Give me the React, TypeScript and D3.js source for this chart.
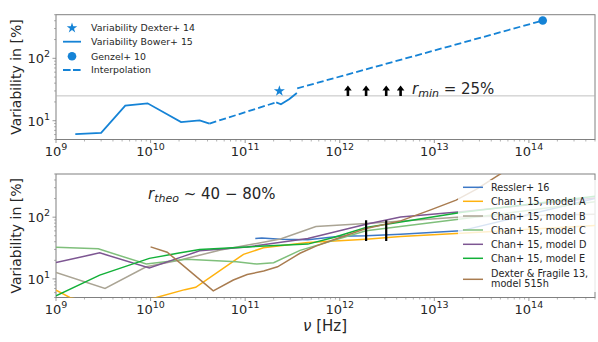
import React, { useEffect, useRef } from 'react';
import * as d3 from 'd3';

// ---- top panel data ----
const bowerFreq = [1.6e9, 3.0e9, 5.4e9, 9.3e9, 2.1e10, 3.3e10, 4.2e10];
const bowerVar = [6.1, 6.4, 17.4, 19.0, 9.5, 10.1, 9.0];
const bower2Freq = [2.13e11, 2.39e11, 2.94e11, 3.52e11];
const bower2Var = [19.7, 18.3, 22.3, 27.8];
const interp1Freq = [4.2e10, 2.13e11];
const interp1Var = [9.0, 19.7];
const interp2Freq = [3.55e11, 1.4e14];
const interp2Var = [33, 403];
const dexterStar = { freq: 2.3e11, v: 30 };
const genzelDot = { freq: 1.4e14, v: 403 };
const rMin = 25;
const arrowFreq = [1.22e12, 1.9e12, 3.1e12, 4.4e12];

// ---- bottom panel data ----
const resslerFreq = [1.28e11, 1.5e11, 2.36e11, 4.6e11, 1e12, 1.9e12, 4.4e12, 1.9e13, 5e14];
const resslerVar = [45, 46, 44, 43, 49, 50, 53, 60, 200];
const chanAFreq = [1e9, 1.4e9, 4e9, 1.15e10, 2.3e10, 3e10, 9.6e10, 1.56e11, 4.6e11, 1.9e12, 4.4e12, 1.9e13, 5e14];
const chanAVar = [6.6, 5, 3.5, 5, 6.7, 7.3, 25, 32, 39, 44, 48.6, 55, 73];
const chanBFreq = [1e9, 3.3e9, 9e9, 2e10, 5.5e10, 2.36e11, 5.6e11, 1.9e12, 1.9e13, 5e14];
const chanBVar = [12.7, 7.0, 15.7, 20.1, 29.3, 44.2, 70.5, 79, 101, 111];
const chanCFreq = [1e9, 2.8e9, 9e9, 2.4e10, 8.1e10, 1.33e11, 2e11, 3.8e11, 1.9e12, 1.9e13, 5e14];
const chanCVar = [32.7, 30.7, 17.4, 20.9, 18.9, 17.4, 18.3, 29, 60, 93, 178];
const chanDFreq = [1e9, 2.9e9, 9.7e9, 2.3e10, 3.3e10, 1.05e11, 4.6e11, 1.9e12, 4.4e12, 1.9e13, 5e14];
const chanDVar = [18.5, 26.4, 15.1, 23.6, 28.5, 33, 45, 77, 101, 122, 205];
const chanEFreq = [1e9, 2.9e9, 9.7e9, 2e10, 3.3e10, 1.05e11, 4.6e11, 8.6e11, 1.9e12, 1.9e13, 5e14];
const chanEVar = [5.3, 11.5, 21.5, 26.2, 30, 33, 36.6, 47, 68, 119, 219];
const dfFreq = [1e10, 1.5e10, 2.2e10, 4.6e10, 7.5e10, 1.05e11, 1.57e11, 2.2e11, 3.8e11, 5.6e11, 8.6e11, 1.9e12, 4.4e12, 9e12, 1.7e13, 2.8e13, 6e13];
const dfVar = [33, 27, 16.6, 6.4, 9.6, 11.8, 13.4, 15.7, 26, 34, 43, 65.6, 87, 130, 189, 284, 600];
const theoBarFreq = [1.9e12, 3.1e12];
const theoBarRange = [41, 89];

const topLegend = ['Variability Dexter+ 14', 'Variability Bower+ 15', 'Genzel+ 10', 'Interpolation'];
const bottomSeries = [
  { name: ['Ressler+ 16'], freq: resslerFreq, v: resslerVar, color: '#3d78c6' },
  { name: ['Chan+ 15, model A'], freq: chanAFreq, v: chanAVar, color: '#ffb20f' },
  { name: ['Chan+ 15, model B'], freq: chanBFreq, v: chanBVar, color: '#aaa494' },
  { name: ['Chan+ 15, model C'], freq: chanCFreq, v: chanCVar, color: '#7fbf7b' },
  { name: ['Chan+ 15, model D'], freq: chanDFreq, v: chanDVar, color: '#7d5692' },
  { name: ['Chan+ 15, model E'], freq: chanEFreq, v: chanEVar, color: '#12b038' },
  { name: ['Dexter & Fragile 13,', 'model 515h'], freq: dfFreq, v: dfVar, color: '#a97c50' },
];

const BLUE = '#1583d6';
const FONT = 'DejaVu Sans, sans-serif';

const App = () => {
  const ref = useRef<SVGSVGElement | null>(null);

  useEffect(() => {
    const svg = d3.select(ref.current);
    svg.selectAll('*').remove();

    const x = d3.scaleLog().domain([1e9, 5e14]).range([56, 595]);
    const yTop = d3.scaleLog().domain([5, 500]).range([139.5, 14.7]);
    const yBot = d3.scaleLog().domain([5, 500]).range([297.5, 174]);

    const defs = svg.append('defs');
    [['clipTop', yTop], ['clipBot', yBot]].forEach(([id, y]: any) => {
      defs.append('clipPath').attr('id', id)
        .append('rect')
        .attr('x', 56).attr('y', y.range()[1])
        .attr('width', 539).attr('height', y.range()[0] - y.range()[1]);
    });

    const minorX: number[] = [];
    for (let d = 9; d <= 14; d++) for (let k = 2; k <= 9; k++) if (k * 10 ** d <= 5e14) minorX.push(k * 10 ** d);
    const majorX = d3.range(9, 15);
    const minorY: number[] = [];
    for (let d = 0; d <= 2; d++) for (let k = 2; k <= 9; k++) {
      const v = k * 10 ** d;
      if (v >= 5 && v <= 500) minorY.push(v);
    }

    const drawAxes = (y: any) => {
      const [yb, yt] = y.range();
      const g = svg.append('g');
      // spines
      g.append('rect').attr('x', 56).attr('y', yt).attr('width', 539).attr('height', yb - yt)
        .attr('fill', 'none').attr('stroke', '#808080').attr('stroke-width', 1);
      // x ticks
      minorX.forEach((f) => {
        g.append('line').attr('x1', x(f)).attr('x2', x(f)).attr('y1', yb).attr('y2', yb + 2)
          .attr('stroke', '#808080').attr('stroke-width', 0.6);
      });
      majorX.forEach((e) => {
        const px = x(10 ** e);
        g.append('line').attr('x1', px).attr('x2', px).attr('y1', yb).attr('y2', yb + 3.5)
          .attr('stroke', '#808080').attr('stroke-width', 0.8);
        const t = g.append('text').attr('x', px).attr('y', yb + 16.5)
          .attr('text-anchor', 'middle').attr('font-family', FONT).attr('font-size', 13).attr('fill', '#262626');
        t.append('tspan').text('10');
        t.append('tspan').attr('dy', -6).attr('font-size', 9.5).text(String(e));
      });
      // y ticks
      minorY.forEach((v) => {
        g.append('line').attr('x1', 56).attr('x2', 54).attr('y1', y(v)).attr('y2', y(v))
          .attr('stroke', '#808080').attr('stroke-width', 0.6);
      });
      [1, 2].forEach((e) => {
        const py = y(10 ** e);
        g.append('line').attr('x1', 56).attr('x2', 52.5).attr('y1', py).attr('y2', py)
          .attr('stroke', '#808080').attr('stroke-width', 0.8);
        const t = g.append('text').attr('x', 50).attr('y', py + 5)
          .attr('text-anchor', 'end').attr('font-family', FONT).attr('font-size', 13).attr('fill', '#262626');
        t.append('tspan').text('10');
        t.append('tspan').attr('dy', -6).attr('font-size', 9.5).text(String(e));
      });
      svg.append('text')
        .attr('transform', `translate(21, ${(yb + yt) / 2}) rotate(-90)`)
        .attr('text-anchor', 'middle').attr('font-family', FONT).attr('font-size', 14).attr('fill', '#262626')
        .text('Variability in [%]');
    };

    drawAxes(yTop);
    drawAxes(yBot);

    const lineOf = (y: any) => d3.line<[number, number]>().x((d) => x(d[0])).y((d) => y(d[1]));
    const zip = (a: number[], b: number[]) => a.map((f, i) => [f, b[i]] as [number, number]);

    // ---- top panel ----
    const top = svg.append('g').attr('clip-path', 'url(#clipTop)');
    top.append('line').attr('x1', 56).attr('x2', 595).attr('y1', yTop(rMin)).attr('y2', yTop(rMin))
      .attr('stroke', '#b0b0b0').attr('stroke-width', 0.8);
    [[bowerFreq, bowerVar], [bower2Freq, bower2Var]].forEach(([f, v]) => {
      top.append('path').attr('d', lineOf(yTop)(zip(f, v))).attr('fill', 'none')
        .attr('stroke', BLUE).attr('stroke-width', 1.8);
    });
    [[interp1Freq, interp1Var], [interp2Freq, interp2Var]].forEach(([f, v]) => {
      top.append('path').attr('d', lineOf(yTop)(zip(f, v))).attr('fill', 'none')
        .attr('stroke', BLUE).attr('stroke-width', 1.8).attr('stroke-dasharray', '7,3.2');
    });
    top.append('path').attr('d', d3.symbol(d3.symbolStar, 38)())
      .attr('transform', `translate(${x(dexterStar.freq)}, ${yTop(dexterStar.v)})`).attr('fill', BLUE);
    top.append('circle').attr('cx', x(genzelDot.freq)).attr('cy', yTop(genzelDot.v)).attr('r', 4.3).attr('fill', BLUE);
    arrowFreq.forEach((f) => {
      const ax = x(f);
      const y0 = yTop(rMin);
      top.append('path')
        .attr('d', `M${ax - 1.3},${y0} L${ax - 1.3},${y0 - 5.5} L${ax - 3.8},${y0 - 5.5} L${ax},${y0 - 10.5} L${ax + 3.8},${y0 - 5.5} L${ax + 1.3},${y0 - 5.5} L${ax + 1.3},${y0} Z`)
        .attr('fill', '#000');
    });
    const rt = svg.append('text').attr('x', 412).attr('y', yTop(rMin) - 1.5)
      .attr('font-family', FONT).attr('font-size', 15).attr('fill', '#262626');
    rt.append('tspan').attr('font-style', 'italic').text('r');
    rt.append('tspan').attr('font-style', 'italic').attr('font-size', 11).attr('dy', 3).text('min');
    rt.append('tspan').attr('dy', -3).text(' = 25%');

    // top legend
    const lg = svg.append('g');
    lg.append('rect').attr('x', 58).attr('y', 18).attr('width', 145).attr('height', 60)
      .attr('fill', '#fff').attr('fill-opacity', 0.8);
    const rowsY = [28, 41.7, 56.3, 70];
    lg.append('path').attr('d', d3.symbol(d3.symbolStar, 34)())
      .attr('transform', `translate(72, ${rowsY[0]})`).attr('fill', BLUE);
    lg.append('line').attr('x1', 63).attr('x2', 81).attr('y1', rowsY[1]).attr('y2', rowsY[1])
      .attr('stroke', BLUE).attr('stroke-width', 1.8);
    lg.append('circle').attr('cx', 72).attr('cy', rowsY[2]).attr('r', 4.3).attr('fill', BLUE);
    lg.append('line').attr('x1', 63).attr('x2', 81).attr('y1', rowsY[3]).attr('y2', rowsY[3])
      .attr('stroke', BLUE).attr('stroke-width', 1.8).attr('stroke-dasharray', '7.6,2.4');
    topLegend.forEach((s, i) => {
      lg.append('text').attr('x', 91).attr('y', rowsY[i] + 3.4)
        .attr('font-family', FONT).attr('font-size', 9.4).attr('fill', '#262626').text(s);
    });

    // ---- bottom panel ----
    const bot = svg.append('g').attr('clip-path', 'url(#clipBot)');
    bottomSeries.forEach((s) => {
      bot.append('path').attr('d', lineOf(yBot)(zip(s.freq, s.v))).attr('fill', 'none')
        .attr('stroke', s.color).attr('stroke-width', 1.5);
    });
    theoBarFreq.forEach((f) => {
      bot.append('line').attr('x1', x(f)).attr('x2', x(f))
        .attr('y1', yBot(theoBarRange[0])).attr('y2', yBot(theoBarRange[1]))
        .attr('stroke', '#000').attr('stroke-width', 2.2);
    });
    const tt = svg.append('text').attr('x', 148).attr('y', 199)
      .attr('font-family', FONT).attr('font-size', 15).attr('fill', '#262626');
    tt.append('tspan').attr('font-style', 'italic').text('r');
    tt.append('tspan').attr('font-style', 'italic').attr('font-size', 11).attr('dy', 3).text('theo');
    tt.append('tspan').attr('dy', -3).text(' ~ 40 \u2212 80%');

    // bottom legend
    const bl = svg.append('g');
    bl.append('rect').attr('x', 458).attr('y', 180).attr('width', 140).attr('height', 112)
      .attr('fill', '#fff').attr('fill-opacity', 0.8);
    const legY = [187.3, 201.3, 216, 230, 244.3, 258.3, 279.3];
    bottomSeries.forEach((s, i) => {
      bl.append('line').attr('x1', 463).attr('x2', 483).attr('y1', legY[i]).attr('y2', legY[i])
        .attr('stroke', s.color).attr('stroke-width', 1.5);
      const t0 = s.name.length > 1 ? legY[i] - 6 : legY[i];
      s.name.forEach((line, j) => {
        bl.append('text').attr('x', 491).attr('y', t0 + j * 10.5 + 3.5)
          .attr('font-family', FONT).attr('font-size', 9.7).attr('fill', '#262626').text(line);
      });
    });

    // x label
    svg.append('text').attr('x', 325).attr('y', 331).attr('text-anchor', 'middle')
      .attr('font-family', FONT).attr('font-size', 15).attr('fill', '#262626')
      .html('<tspan font-style="italic">\u03bd</tspan> [Hz]');
  }, []);

  return (
    <svg ref={ref} width={598} height={342}
      style={{ position: 'absolute', left: 0, top: 0, background: '#fff' }} />
  );
};

export default App;
